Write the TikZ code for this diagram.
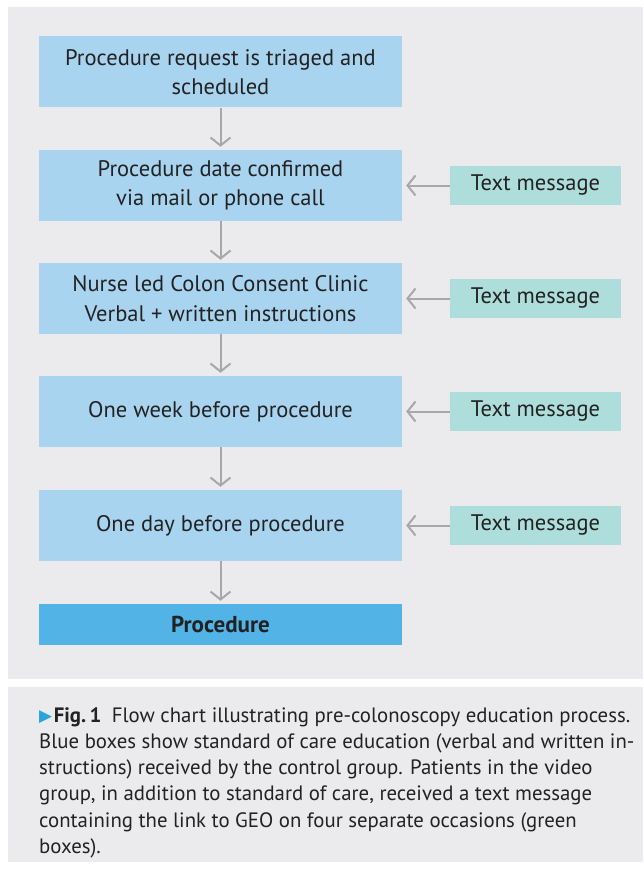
\documentclass[tikz,border=0pt]{standalone}
\usepackage{fontspec}
\setmainfont{PT Sans}
\newfontfamily\symfont{DejaVu Sans}
\usetikzlibrary{arrows.meta,positioning}
\definecolor{panelgray}{HTML}{EBEBEE}
\definecolor{stepblue}{HTML}{A9D4F0}
\definecolor{finalblue}{HTML}{52B3E6}
\definecolor{msggreen}{HTML}{ADDEDB}
\definecolor{arrowgray}{HTML}{A8A8A8}
\definecolor{inkdark}{HTML}{222222}
\definecolor{markerblue}{HTML}{2BA3DC}
\tikzset{
  stepbox/.style={fill=stepblue, draw=none, minimum width=363pt, minimum height=71pt,
    inner sep=0pt, align=center, text=inkdark, font=\fontsize{22.5}{29.5}\selectfont},
  finalbox/.style={stepbox, fill=finalblue, minimum height=41pt, font=\fontsize{23}{29}\selectfont\bfseries},
  msgbox/.style={fill=msggreen, draw=none, minimum width=171pt, minimum height=39pt,
    inner sep=0pt, text=inkdark, font=\fontsize{22.5}{24}\selectfont},
  flow/.style={draw=arrowgray, line width=2pt, -{Straight Barb[length=8pt,width=20pt,line width=2pt]}}
}
\begin{document}
\begin{tikzpicture}[x=1pt,y=-1pt]
  \useasboundingbox (0,0) rectangle (643,869);
  \fill[white] (0,0) rectangle (643,869);
  % panels
  \fill[panelgray] (8,7) rectangle (643,679);
  \fill[panelgray] (8,687) rectangle (643,862);
  % main steps
  \node[stepbox] (s1) at (220.5,72) {Procedure request is triaged and\\scheduled};
  \node[stepbox] (s2) at (220.5,185.5) {Procedure date confirmed\\via mail or phone call};
  \node[stepbox] (s3) at (220.5,298.5) {Nurse led Colon Consent Clinic\\Verbal + written instructions};
  \node[stepbox] (s4) at (220.5,411.5) {One week before procedure};
  \node[stepbox] (s5) at (220.5,525.5) {One day before procedure};
  \node[finalbox] (s6) at (220.5,624.5) {Procedure};
  % text message reminders
  \node[msgbox] (m2) at (535.5,185.5) {Text message};
  \node[msgbox] (m3) at (535.5,298.5) {Text message};
  \node[msgbox] (m4) at (535.5,411.5) {Text message};
  \node[msgbox] (m5) at (535.5,525.5) {Text message};
  % connectors
  \foreach \a/\b in {s1/s2,s2/s3,s3/s4,s4/s5,s5/s6}
    \draw[flow, shorten >=3pt] (\a.south) -- (\b.north);
  \foreach \i in {2,3,4,5}
    \draw[flow, shorten >=4pt] (m\i.west) -- (s\i.east);
  % caption
  \node[anchor=north west, inner sep=0pt, align=left, text=inkdark,
        font=\fontsize{20.8}{26.3}\selectfont] (caption) at (39,707)
    {{\color{markerblue}\raisebox{0.5pt}{\symfont\fontsize{17}{17}\selectfont▶}}\kern1.5pt\textbf{Fig.\,1}\enspace Flow chart illustrating pre-colonoscopy education process.\\
     Blue boxes show standard of care education (verbal and written in-\\
     structions) received by the control group. Patients in the video\\
     group, in addition to standard of care, received a text message\\
     containing the link to GEO on four separate occasions (green\\
     boxes).};
\end{tikzpicture}
\end{document}
